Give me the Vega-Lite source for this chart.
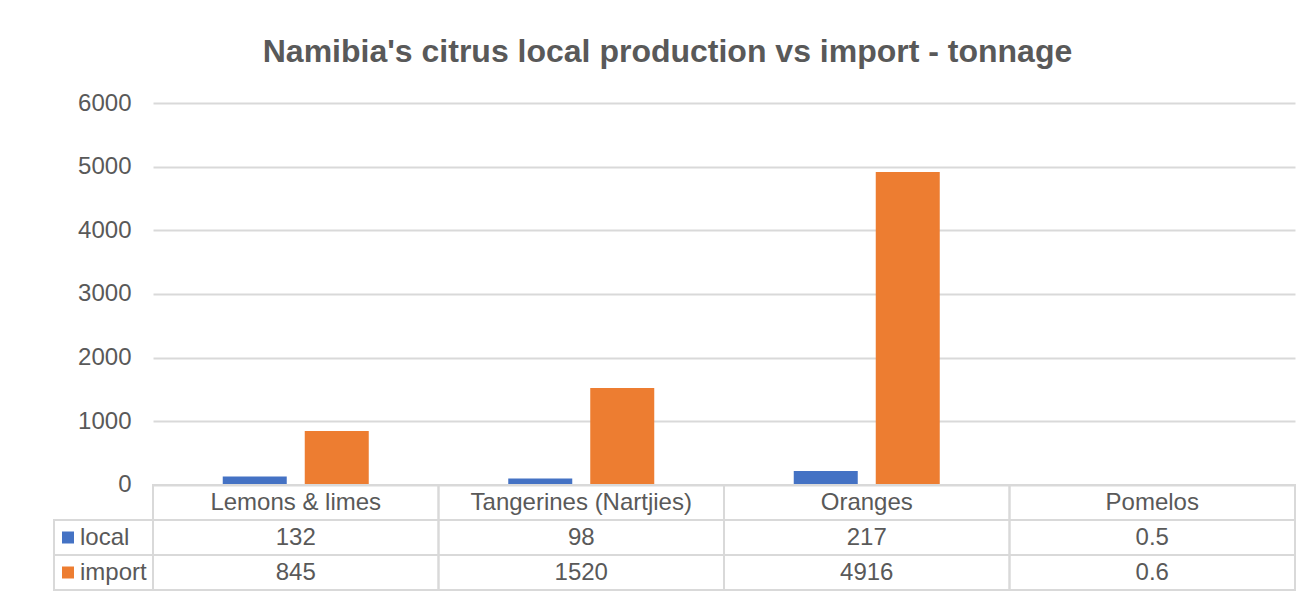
{
  "$schema": "https://vega.github.io/schema/vega-lite/v6.json",
  "padding": {"left": 53, "top": 36, "right": 10, "bottom": 3},
  "background": "white",
  "bounds": "flush",
  "spacing": 0,
  "title": {
    "text": "Namibia's citrus local production vs import - tonnage",
    "fontSize": 32,
    "fontWeight": "bold",
    "font": "Liberation Sans",
    "color": "#595959",
    "anchor": "middle",
    "offset": 22,
    "dx": -7
  },
  "datasets": {
    "vals": [
      {"cat": "Lemons & limes", "series": "local", "value": 132},
      {"cat": "Lemons & limes", "series": "import", "value": 845},
      {"cat": "Tangerines (Nartjies)", "series": "local", "value": 98},
      {"cat": "Tangerines (Nartjies)", "series": "import", "value": 1520},
      {"cat": "Oranges", "series": "local", "value": 217},
      {"cat": "Oranges", "series": "import", "value": 4916},
      {"cat": "Pomelos", "series": "local", "value": 0.5},
      {"cat": "Pomelos", "series": "import", "value": 0.6}
    ],
    "rows": [
      {"series": "local"},
      {"series": "import"}
    ]
  },
  "config": {
    "view": {"stroke": null},
    "font": "Liberation Sans",
    "text": {"font": "Liberation Sans", "fontSize": 24, "fill": "#595959"}
  },
  "hconcat": [
    {
      "width": 99,
      "height": 487,
      "data": {"name": "rows"},
      "layer": [
        {
          "mark": {"type": "rect", "fill": "white", "stroke": "#d9d9d9", "strokeWidth": 2},
          "encoding": {
            "y": {
              "field": "series", "type": "nominal",
              "scale": {"domain": ["hdr", "local", "import"], "paddingInner": 0, "paddingOuter": 0, "range": [382, 487]},
              "axis": null
            }
          }
        },
        {
          "mark": {"type": "square", "filled": true, "size": 144, "opacity": 1},
          "encoding": {
            "x": {"datum": "swatch", "type": "nominal",
                  "scale": {"type": "point", "domain": ["swatch", "name"], "padding": 0, "range": [14, 26]},
                  "axis": null},
            "y": {"field": "series", "type": "nominal",
                  "scale": {"domain": ["hdr", "local", "import"], "paddingInner": 0, "paddingOuter": 0, "range": [382, 487]},
                  "axis": null},
            "color": {"field": "series", "type": "nominal",
                      "scale": {"domain": ["local", "import"], "range": ["#4472C4", "#ED7D31"]},
                      "legend": null}
          }
        },
        {
          "mark": {"type": "text", "align": "left", "baseline": "middle"},
          "encoding": {
            "x": {"datum": "name", "type": "nominal",
                  "scale": {"type": "point", "domain": ["swatch", "name"], "padding": 0, "range": [14, 26]},
                  "axis": null},
            "y": {"field": "series", "type": "nominal",
                  "scale": {"domain": ["hdr", "local", "import"], "paddingInner": 0, "paddingOuter": 0, "range": [382, 487]},
                  "axis": null},
            "text": {"field": "series", "type": "nominal"}
          }
        }
      ]
    },
    {
      "width": 1142,
      "height": 487,
      "data": {"name": "vals"},
      "resolve": {"scale": {"y": "independent"}},
      "layer": [
        {
          "mark": {"type": "bar"},
          "encoding": {
            "x": {"field": "cat", "type": "nominal", "sort": null,
                  "scale": {"paddingInner": 0, "paddingOuter": 0},
                  "axis": null},
            "xOffset": {"field": "series", "type": "nominal",
                        "scale": {"domain": ["local", "import"], "paddingInner": 0.2195, "paddingOuter": 0.8506}},
            "y": {"field": "value", "type": "quantitative",
                  "scale": {"domain": [-1652, 6000], "nice": false, "zero": false},
                  "axis": {"values": [0, 1000, 2000, 3000, 4000, 5000, 6000], "format": "d",
                           "title": null, "domain": false, "ticks": false,
                           "labelFontSize": 24, "labelColor": "#595959", "labelFont": "Liberation Sans",
                           "labelPadding": 22, "grid": true, "gridColor": "#d9d9d9", "gridWidth": 2}},
            "color": {"field": "series", "type": "nominal",
                      "scale": {"domain": ["local", "import"], "range": ["#4472C4", "#ED7D31"]},
                      "legend": null}
          }
        },
        {
          "mark": {"type": "rect", "fill": "white", "fillOpacity": 0, "stroke": "#d9d9d9", "strokeWidth": 2},
          "encoding": {
            "x": {"field": "cat", "type": "nominal", "sort": null, "axis": null},
            "y": {"field": "series", "type": "nominal",
                  "scale": {"domain": ["hdr", "local", "import"], "paddingInner": 0, "paddingOuter": 0, "range": [382, 487]},
                  "axis": null}
          }
        },
        {
          "transform": [{"filter": "datum.series === 'local'"}],
          "mark": {"type": "rect", "fill": "white", "fillOpacity": 0, "stroke": "#d9d9d9", "strokeWidth": 2},
          "encoding": {
            "x": {"field": "cat", "type": "nominal", "sort": null, "axis": null},
            "y": {"datum": "hdr", "type": "nominal",
                  "scale": {"domain": ["hdr", "local", "import"], "paddingInner": 0, "paddingOuter": 0, "range": [382, 487]},
                  "axis": null}
          }
        },
        {
          "mark": {"type": "text", "align": "center", "baseline": "middle"},
          "encoding": {
            "x": {"field": "cat", "type": "nominal", "sort": null, "axis": null},
            "y": {"field": "series", "type": "nominal",
                  "scale": {"domain": ["hdr", "local", "import"], "paddingInner": 0, "paddingOuter": 0, "range": [382, 487]},
                  "axis": null},
            "text": {"field": "value", "type": "nominal"}
          }
        },
        {
          "transform": [{"filter": "datum.series === 'local'"}],
          "mark": {"type": "text", "align": "center", "baseline": "middle"},
          "encoding": {
            "x": {"field": "cat", "type": "nominal", "sort": null, "axis": null},
            "y": {"datum": "hdr", "type": "nominal",
                  "scale": {"domain": ["hdr", "local", "import"], "paddingInner": 0, "paddingOuter": 0, "range": [382, 487]},
                  "axis": null},
            "text": {"field": "cat", "type": "nominal"}
          }
        }
      ]
    }
  ]
}
